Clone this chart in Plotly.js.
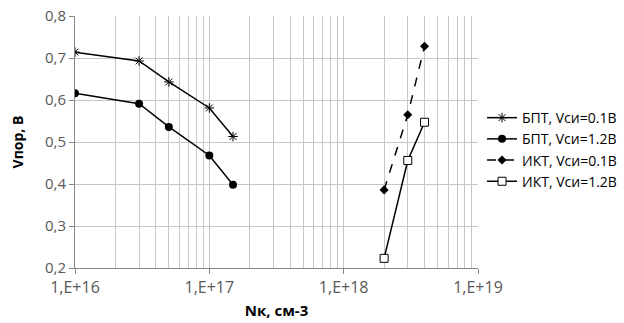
<!DOCTYPE html>
<html><head><meta charset="utf-8">
<script src="https://cdn.plot.ly/plotly-3.0.1.min.js"></script>
<style>body{margin:0;background:#fff}#c{width:624px;height:323px}</style>
</head><body><div id="c"></div>
<script>
const xBPT = [1e16, 3e16, 5e16, 1e17, 1.5e17];
const yBPT01 = [0.714, 0.693, 0.643, 0.581, 0.513];
const yBPT12 = [0.616, 0.591, 0.536, 0.468, 0.398];
const xIKT = [2e18, 3e18, 4e18];
const yIKT01 = [0.386, 0.565, 0.728];
const yIKT12 = [0.223, 0.456, 0.547];
const names = ['БПТ, Vси=0.1В', 'БПТ, Vси=1.2В', 'ИКТ, Vси=0.1В', 'ИКТ, Vси=1.2В'];
const majorTicks = [1e16, 1e17, 1e18, 1e19];
const majorLabels = ['1,E+16', '1,E+17', '1,E+18', '1,E+19'];
const minorTicks = [];
for (const d of [1e16, 1e17, 1e18]) for (let k = 2; k <= 9; k++) minorTicks.push(k * d);

const traces = [
  {x: xBPT, y: yBPT01, name: names[0], mode: 'lines+markers',
   line: {color: '#000', width: 1.5},
   marker: {symbol: 'asterisk-open', size: 8, color: '#000', line: {color: '#000', width: 1}}},
  {x: xBPT, y: yBPT12, name: names[1], mode: 'lines+markers',
   line: {color: '#000', width: 1.5},
   marker: {symbol: 'circle', size: 8, color: '#000'}},
  {x: xIKT, y: yIKT01, name: names[2], mode: 'lines+markers',
   line: {color: '#000', width: 1.5, dash: 'dash'},
   marker: {symbol: 'diamond', size: 7, color: '#000'}},
  {x: xIKT, y: yIKT12, name: names[3], mode: 'lines+markers',
   line: {color: '#000', width: 1.5},
   marker: {symbol: 'square', size: 8, color: '#fff', line: {color: '#000', width: 1}}}
];

const layout = {
  width: 624, height: 323,
  margin: {l: 75, r: 146, t: 16, b: 55, autoexpand: false},
  paper_bgcolor: '#fff', plot_bgcolor: '#fff',
  separators: ', ',
  font: {family: 'Open Sans, Liberation Sans, sans-serif', size: 13, color: '#595959'},
  showlegend: true,
  legend: {x: 1.01, xanchor: 'left', y: 0.47, yanchor: 'middle',
    font: {size: 14, color: '#000'}, itemwidth: 30, tracegroupgap: 0,
    bgcolor: 'rgba(0,0,0,0)'},
  xaxis: {
    type: 'log', range: [16, 19],
    tickmode: 'array', tickvals: majorTicks, ticktext: majorLabels,
    ticks: 'outside', ticklen: 5, tickcolor: '#868686',
    showgrid: true, gridcolor: '#c6c6c6', gridwidth: 1,
    minor: {tickmode: 'array', tickvals: minorTicks, showgrid: true, gridcolor: '#c6c6c6', gridwidth: 1, ticks: ''},
    showline: true, linecolor: '#868686', linewidth: 1,
    zeroline: false,
    tickfont: {family: 'Open Sans, sans-serif', size: 16, color: '#595959'},
    title: {text: '<b>Nк, см-3</b>', font: {size: 15, color: '#000'}, standoff: 8}
  },
  yaxis: {
    range: [0.2, 0.8], dtick: 0.1, tick0: 0.2, tickformat: '.1f',
    ticks: 'outside', ticklen: 5, tickcolor: '#868686',
    showgrid: true, gridcolor: '#c6c6c6', gridwidth: 1,
    showline: true, linecolor: '#868686', linewidth: 1,
    zeroline: false,
    tickfont: {size: 15, color: '#595959'},
    title: {text: '<b>Vпор, В</b>', font: {size: 14, color: '#000'}, standoff: 18}
  }
};
Plotly.newPlot('c', traces, layout, {displayModeBar: false, staticPlot: true});
</script></body></html>
